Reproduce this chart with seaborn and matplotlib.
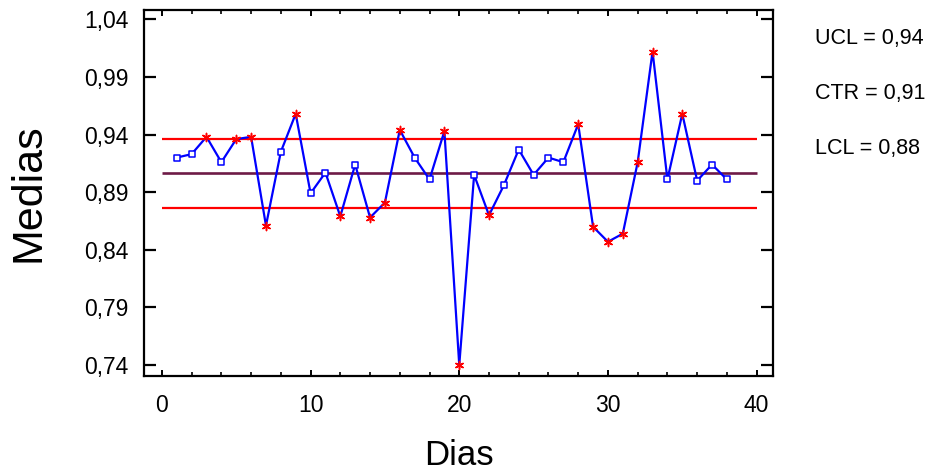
import matplotlib
matplotlib.use("Agg")
import matplotlib.pyplot as plt
import seaborn as sns
import pandas as pd
from matplotlib.ticker import MultipleLocator

# Estilo
sns.set_style("ticks", {"axes.edgecolor": "black", "text.color": "black",
                        "axes.labelcolor": "black", "xtick.color": "black",
                        "ytick.color": "black"})
plt.rcParams['font.family'] = ['Liberation Sans', 'DejaVu Sans']

# Datos (medias diarias)
dias = list(range(1, 39))
medias = [0.920, 0.923, 0.938, 0.916, 0.936, 0.938, 0.861, 0.925, 0.958, 0.889,
          0.907, 0.869, 0.914, 0.868, 0.881, 0.944, 0.920, 0.901, 0.943, 0.740,
          0.905, 0.870, 0.896, 0.927, 0.905, 0.920, 0.916, 0.949, 0.860, 0.847,
          0.854, 0.916, 1.012, 0.901, 0.958, 0.900, 0.914, 0.901]
# días marcados fuera de control
fuera = [3, 5, 6, 7, 9, 12, 14, 15, 16, 19, 20, 22, 28, 29, 30, 31, 32, 33, 35]

ucl, ctr, lcl = 0.936, 0.907, 0.876
limites_x = [0, 40]
textos_lim = ["UCL = 0,94", "CTR = 0,91", "LCL = 0,88"]

y_ticks = [0.74, 0.79, 0.84, 0.89, 0.94, 0.99, 1.04]
y_labels = ["0,74", "0,79", "0,84", "0,89", "0,94", "0,99", "1,04"]
x_ticks = [0, 10, 20, 30, 40]

df = pd.DataFrame({"Dias": dias, "Medias": medias})
df_fuera = df[df["Dias"].isin(fuera)]
df_dentro = df[~df["Dias"].isin(fuera)]

fig = plt.figure(figsize=(9.39, 4.74), dpi=100)
ax = fig.add_axes([0.1534, 0.2078, 0.6698, 0.7711])

# Líneas de control
ax.hlines(ucl, limites_x[0], limites_x[1], color="#FF0000", lw=1.6, zorder=1)
ax.hlines(lcl, limites_x[0], limites_x[1], color="#FF0000", lw=1.6, zorder=1)
ax.hlines(ctr, limites_x[0], limites_x[1], color="#6E1A46", lw=1.9, zorder=1)

# Serie de medias
sns.lineplot(data=df, x="Dias", y="Medias", ax=ax, color="#0000FF", lw=1.6,
             zorder=3)
sns.scatterplot(data=df_dentro, x="Dias", y="Medias", ax=ax, marker="s", s=18,
                facecolor="white", edgecolor="#0000FF", linewidth=1.1, zorder=4)
sns.scatterplot(data=df_fuera, x="Dias", y="Medias", ax=ax, color="#FF0000",
                marker=(6, 2, 0), s=34, linewidth=1.1, zorder=5)

ax.set_xlim(-1.2, 41.1)
ax.set_ylim(0.731, 1.048)
ax.set_yticks(y_ticks)
ax.set_yticklabels(y_labels)
ax.set_xticks(x_ticks)
ax.xaxis.set_minor_locator(MultipleLocator(2))

ax.tick_params(axis="y", which="major", direction="in", length=8.5, width=1.6,
               left=True, right=True, labelsize=16.5, pad=11)
ax.tick_params(axis="x", which="major", direction="in", length=4.5, width=1.4,
               bottom=True, top=True, labelsize=16.5, pad=13)
ax.tick_params(axis="x", which="minor", direction="in", length=3, width=1.2,
               bottom=True, top=True)
for sp in ax.spines.values():
    sp.set_linewidth(1.6)
    sp.set_visible(True)

ax.set_xlabel("Dias", fontsize=25, labelpad=16)
ax.set_ylabel("Medias", fontsize=31, labelpad=26)

# Etiquetas de límites a la derecha
for i, t in enumerate(textos_lim):
    fig.text(0.868, 0.918 - i * 0.116, t, fontsize=15.5, va="center", ha="left")

plt.savefig("out.png", dpi=100)
plt.close()
